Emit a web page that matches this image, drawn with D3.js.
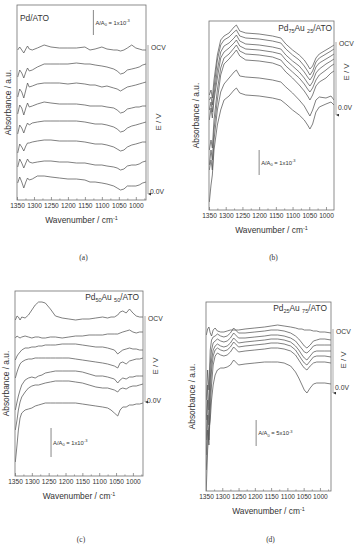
<!DOCTYPE html>
<html>
<head>
<meta charset="utf-8">
<script src="https://cdn.jsdelivr.net/npm/d3@7"></script>
<style>
  body { margin: 0; background: #fff; }
  svg text { font-family: Arial, "Liberation Sans", sans-serif; fill: #333; }
</style>
</head>
<body>
<svg id="fig" width="359" height="550"></svg>
<script>
// x tick labels, shared by the four panels
const tickLabels = [1350, 1300, 1250, 1200, 1150, 1100, 1050, 1000];
const minorTicks = [1325, 1275, 1225, 1175, 1125, 1075, 1025, 975];

// (a) Pd/ATO  - wavenumbers and stacked spectra (a.u.), OCV first, 0.0V last
const wnA = [1348,1342,1336,1330,1324,1319,1314,1305,1290,1270,1250,1225,1200,1175,1150,1135,1120,1100,1085,1065,1055,1045,1035,1025,1012,1000,990,980,970];
const spectraA = [
  [150,153,150,147,151,154,151,150,152,155,153,152,152,152,153,150,151,153,151,150,150,149,150,152,155,152,151,150,150],
  [123,130,127,122,128,132,129,130,133,136,136,136,136,137,136,136,135,134,133,131,129,126,127,130,131,132,133,135,136],
  [103,111,108,102,110,117,113,114,116,117,117,117,116,117,116,115,115,113,114,112,111,109,111,113,114,115,116,117,118],
  [86,95,92,85,92,97,93,94,96,98,97,96,96,96,95,94,94,94,93,92,90,87,88,91,92,93,93,94,94],
  [66,75,72,67,73,77,75,77,78,79,79,79,79,79,78,77,76,76,75,73,71,68,69,72,74,75,76,77,78],
  [47,56,53,49,54,57,57,58,59,60,60,59,59,59,58,57,56,56,55,53,51,49,50,53,55,56,57,58,58],
  [33,41,37,32,37,41,38,37,38,39,39,38,38,37,37,36,35,35,34,33,32,30,31,34,35,35,36,38,39],
  [17,23,18,12,18,22,20,21,24,24,23,22,21,21,20,18,18,17,16,14,12,10,11,14,14,14,15,17,18]
];

// (b) Pd75Au25/ATO
const wnB = [1349,1344,1340,1335,1325,1315,1305,1290,1275,1268,1258,1240,1200,1160,1135,1120,1100,1080,1065,1055,1048,1040,1030,1020,1000,985,976];
const spectraB = [
  [115,120,112,130,155,170,174,177,183,185,179,177,176,174,172,166,160,155,150,145,141,144,152,156,160,163,165],
  [110,113,105,122,150,165,170,173,178,180,174,172,171,169,167,161,155,150,144,139,135,139,148,152,156,159,161],
  [100,108,98,115,140,158,164,167,172,175,169,166,165,163,161,155,149,144,138,133,130,134,143,147,151,154,156],
  [90,102,92,110,132,152,158,162,167,170,164,161,160,158,156,150,144,138,132,127,124,128,137,141,146,149,151],
  [60,70,62,90,120,142,152,156,162,165,159,156,155,153,150,144,138,132,126,121,118,122,130,135,140,144,146],
  [45,60,50,80,110,135,146,151,157,160,154,150,149,147,144,138,132,125,119,114,110,115,124,128,132,137,139],
  [40,50,40,70,100,118,126,132,138,140,134,133,132,130,128,123,117,110,104,98,94,100,110,113,112,114,110],
  [8,25,35,60,85,100,110,114,120,122,117,115,114,112,110,106,100,95,90,85,81,86,98,103,106,108,105]
];

// (c) Pd50Au50/ATO
const wnC = [1349,1344,1340,1335,1330,1320,1310,1300,1290,1280,1270,1260,1245,1230,1210,1190,1170,1150,1130,1110,1090,1075,1065,1055,1045,1038,1030,1020,1010,1000,990,980,970];
const spectraC = [
  [156,160,159,156,159,158,161,166,171,174,174,173,167,160,158,157,156,157,157,158,159,158,159,159,161,164,165,163,167,163,160,159,159],
  [138,140,139,138,139,140,139,138,139,139,138,138,139,139,138,139,140,140,141,141,141,142,142,142,142,143,144,145,146,144,143,144,144],
  [116,120,122,124,126,128,128,129,129,130,130,131,131,131,132,132,132,131,130,129,129,128,127,126,122,124,126,127,128,127,127,126,126],
  [98,104,108,112,114,116,117,117,118,118,118,118,118,118,118,118,117,116,115,114,113,112,111,110,108,113,114,112,115,116,117,117,118],
  [66,74,80,86,91,96,98,99,98,100,101,103,104,105,105,105,105,104,102,100,100,99,98,97,93,96,98,97,99,99,100,100,100],
  [46,56,66,74,79,84,88,90,91,91,92,93,94,95,95,95,94,93,91,89,88,88,87,86,84,87,88,87,89,90,90,91,92],
  [14,31,46,58,63,66,67,68,70,71,72,73,73,73,73,73,73,72,71,70,69,68,66,63,60,66,69,69,71,71,72,72,73]
];

// (d) Pd25Au75/ATO
const wnD = [1349,1345,1341,1337,1333,1328,1322,1315,1305,1295,1285,1275,1265,1250,1230,1200,1170,1150,1130,1110,1090,1075,1065,1055,1048,1040,1030,1020,1010,1000,985,966];
const spectraD = [
  [156,162,164,158,155,161,163,160,159,159,160,161,161,161,162,163,164,165,166,165,164,163,162,162,161,161,161,160,160,159,159,158],
  [91,121,101,141,151,154,155,157,155,154,155,158,163,158,158,159,160,161,161,160,158,155,152,148,145,143,146,150,151,152,152,151],
  [71,106,81,126,141,148,150,152,150,149,150,153,158,153,153,154,155,156,156,155,153,150,146,142,139,138,141,145,146,146,146,146],
  [51,91,66,111,131,141,145,147,145,144,145,148,153,148,149,150,151,152,152,151,149,145,141,136,133,131,135,139,140,140,140,140],
  [36,76,51,96,121,135,141,143,141,140,141,144,149,144,145,146,147,148,148,147,145,141,136,131,128,126,130,134,135,135,135,134],
  [21,61,46,81,106,126,135,138,136,135,136,139,144,139,140,141,142,143,143,142,140,136,131,126,123,121,125,128,129,129,129,128],
  [3,41,61,71,91,106,116,121,123,123,124,126,131,126,127,128,129,129,129,128,125,119,113,106,101,98,103,107,108,108,108,107]
];

// scale bars: [wavenumber, top value, length, mantissa, exponent]
const scaleBarA = [1125, 190, 25, "1", "-3"];
const scaleBarB = [1200, 60, 25, "1", "-3"];
const scaleBarC = [1243, 48, 29, "1", "-3"];
const scaleBarD = [1196, 71, 26, "5", "-3"];

const lineColor = "#555";
const frameColor = "#707070";

const svg = d3.select("#fig");

// layout of each panel (pixels)
const panels = [
  {id: "a", wn: wnA, spectra: spectraA, bar: scaleBarA, left: 17, right: 146, top: 5, bottom: 200, xEnd: 970,
   title: [["Pd/ATO", 0]], titleX: 20, titleY: 21, titleAnchor: "start",
   ocvY: 50, zeroY: 194, evY: 122, arrowTop: 45, arrowBottom: 197, yLabX: 8, letterY: 260},
  {id: "b", wn: wnB, spectra: spectraB, bar: scaleBarB, left: 209, right: 334, top: 21, bottom: 210, xEnd: 976,
   title: [["Pd", 0], ["75", 1], ["Au ", 0], ["25", 1], ["/ATO", 0]], titleX: 332, titleY: 31, titleAnchor: "end",
   ocvY: 46, zeroY: 110, evY: 72, arrowTop: 42, arrowBottom: 118, yLabX: 196, letterY: 260},
  {id: "c", wn: wnC, spectra: spectraC, bar: scaleBarC, left: 15, right: 143, top: 291, bottom: 476, xEnd: 970,
   title: [["Pd", 0], ["50", 1], ["Au ", 0], ["50", 1], ["/ATO", 0]], titleX: 139, titleY: 300, titleAnchor: "end",
   ocvY: 321, zeroY: 403, evY: 366, arrowTop: 316, arrowBottom: 405, yLabX: 6, letterY: 542},
  {id: "d", wn: wnD, spectra: spectraD, bar: scaleBarD, left: 206, right: 331, top: 302, bottom: 491, xEnd: 966,
   title: [["Pd", 0], ["25", 1], ["Au ", 0], ["75", 1], ["/ATO", 0]], titleX: 327, titleY: 311, titleAnchor: "end",
   ocvY: 334, zeroY: 390, evY: 360, arrowTop: 329, arrowBottom: 396, yLabX: 192, letterY: 542}
];

svg.append("defs").append("marker")
  .attr("id", "arrow")
  .attr("markerUnits", "userSpaceOnUse")
  .attr("viewBox", "0 0 6 6")
  .attr("refX", 3).attr("refY", 6)
  .attr("markerWidth", 3).attr("markerHeight", 3.5)
  .attr("orient", "auto-start-reverse")
  .append("path").attr("d", "M0,0 L6,0 L3,6 Z").attr("fill", "#333");

panels.forEach(p => {
  const x = d3.scaleLinear().domain([1350, p.xEnd]).range([p.left, p.right]);
  const y = d3.scaleLinear().domain([0, p.bottom - p.top]).range([p.bottom, p.top]);
  const g = svg.append("g");

  g.append("clipPath").attr("id", "clip-" + p.id)
    .append("rect").attr("x", p.left).attr("y", p.top)
    .attr("width", p.right - p.left).attr("height", p.bottom - p.top);

  // spectra
  const line = d3.line().x(d => x(d[0])).y(d => y(d[1]));
  g.append("g").attr("clip-path", `url(#clip-${p.id})`)
    .selectAll("path").data(p.spectra).join("path")
      .attr("d", s => line(s.map((v, i) => [p.wn[i], v])))
      .attr("fill", "none").attr("stroke", lineColor).attr("stroke-width", 0.75)
      .attr("stroke-linejoin", "round");

  // frame
  g.append("rect").attr("x", p.left).attr("y", p.top)
    .attr("width", p.right - p.left).attr("height", p.bottom - p.top)
    .attr("fill", "none").attr("stroke", frameColor).attr("stroke-width", 0.8);

  // bottom axis, ticks inside
  const ax = g.append("g").attr("transform", `translate(0,${p.bottom})`)
    .call(d3.axisBottom(x).tickValues(tickLabels).tickFormat(d3.format("d"))
      .tickSizeInner(-3).tickSizeOuter(0).tickPadding(3));
  ax.select(".domain").remove();
  ax.selectAll("line").attr("stroke", frameColor).attr("stroke-width", 0.7);
  ax.selectAll("text").attr("font-size", 6.6).attr("fill", "#333")
    .style("font-family", "Arial, 'Liberation Sans', sans-serif");
  const mx = g.append("g").attr("transform", `translate(0,${p.bottom})`)
    .call(d3.axisBottom(x).tickValues(minorTicks.filter(t => t > p.xEnd)).tickSizeInner(-1.6).tickSizeOuter(0).tickFormat(""));
  mx.select(".domain").remove();
  mx.selectAll("line").attr("stroke", frameColor).attr("stroke-width", 0.6);

  // axis titles
  const xt = g.append("text").attr("x", (p.left + p.right) / 2).attr("y", p.bottom + 23)
    .attr("text-anchor", "middle").attr("font-size", 8.4).text("Wavenumber / cm");
  xt.append("tspan").attr("font-size", 5.5).attr("dy", -3.5).text("-1");

  g.append("text")
    .attr("transform", `translate(${p.yLabX},${(p.top + p.bottom) / 2}) rotate(-90)`)
    .attr("text-anchor", "middle").attr("dy", "0.35em").attr("font-size", 8.4)
    .text("Absorbance / a.u.");

  // panel title with subscripts
  const tt = g.append("text").attr("x", p.titleX).attr("y", p.titleY)
    .attr("text-anchor", p.titleAnchor).attr("font-size", 8.4);
  p.title.forEach(([s, sub], i) => {
    tt.append("tspan").attr("font-size", sub ? 5.5 : 8.4)
      .attr("dy", sub ? 2 : (i === 0 ? 0 : -2)).text(s);
  });

  // potential labels on the right
  g.append("text").attr("x", p.right + 5).attr("y", p.ocvY).attr("font-size", 6.8).text("OCV");
  g.append("text").attr("x", p.right + 4).attr("y", p.zeroY).attr("font-size", 6.8).text("0.0V");
  g.append("text")
    .attr("transform", `translate(${p.right + 12},${p.evY}) rotate(-90)`)
    .attr("text-anchor", "middle").attr("dy", "0.35em").attr("font-size", 7.8).text("E / V");
  g.append("line")
    .attr("x1", p.right + 2).attr("x2", p.right + 2)
    .attr("y1", p.arrowTop).attr("y2", p.arrowBottom - 3)
    .attr("stroke", "#555").attr("stroke-width", 0.5)
    .attr("marker-end", "url(#arrow)");

  // scale bar
  const [bw, bTop, bLen, mant, expo] = p.bar;
  g.append("line")
    .attr("x1", x(bw)).attr("x2", x(bw))
    .attr("y1", y(bTop)).attr("y2", y(bTop - bLen))
    .attr("stroke", "#555").attr("stroke-width", 0.7);
  const bt = g.append("text").attr("x", x(bw) + 2).attr("y", y(bTop - bLen / 2) + 2)
    .attr("font-size", 5.8).text("A/A");
  bt.append("tspan").attr("font-size", 4).attr("dy", 1.5).text("0");
  bt.append("tspan").attr("dy", -1.5).text(` = ${mant}x10`);
  bt.append("tspan").attr("font-size", 4).attr("dy", -2.5).text(expo);

  // panel letter
  g.append("text").attr("x", (p.left + p.right) / 2 + 2).attr("y", p.letterY)
    .attr("text-anchor", "middle").attr("font-size", 7.5)
    .style("font-family", "'Liberation Serif', 'DejaVu Serif', serif")
    .text(`(${p.id})`);
});
</script>
</body>
</html>
